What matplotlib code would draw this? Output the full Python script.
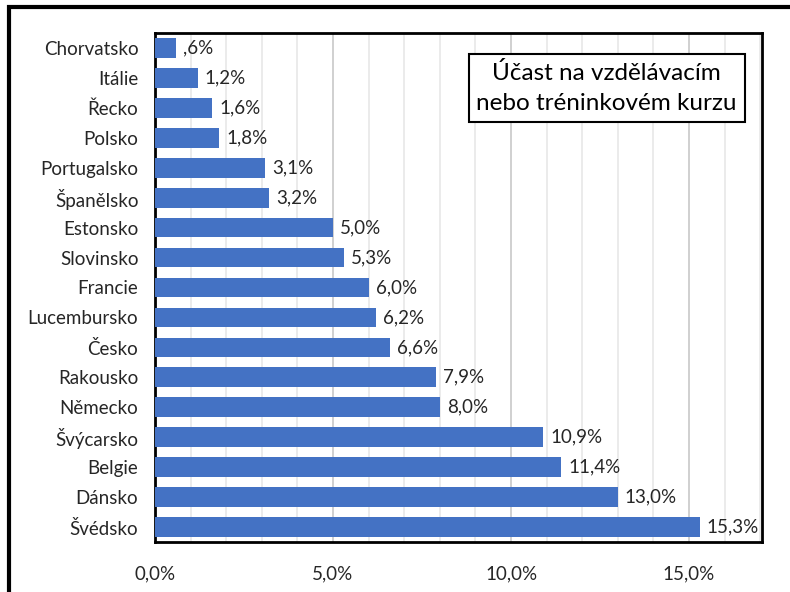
import matplotlib
matplotlib.use("Agg")
import matplotlib.pyplot as plt
from matplotlib.patches import Rectangle
from matplotlib.ticker import MultipleLocator, FuncFormatter

# data (top -> bottom as in the chart)
countries = ["Chorvatsko", "Itálie", "Řecko", "Polsko", "Portugalsko", "Španělsko",
             "Estonsko", "Slovinsko", "Francie", "Lucembursko", "Česko", "Rakousko",
             "Německo", "Švýcarsko", "Belgie", "Dánsko", "Švédsko"]
values = [0.6, 1.2, 1.6, 1.8, 3.1, 3.2, 5.0, 5.3, 6.0, 6.2, 6.6, 7.9,
          8.0, 10.9, 11.4, 13.0, 15.3]
title = "Účast na vzdělávacím\nnebo tréninkovém kurzu"

plt.rcParams["font.family"] = ["Lato", "DejaVu Sans"]
FS = 13.5

fig = plt.figure(figsize=(7.9, 5.92), dpi=100)
W, H = 790, 592
ax = fig.add_axes([155 / W, 1 - 542 / H, (762 - 155) / W, (542 - 33) / H])

ypos = list(range(len(countries)))
ax.barh(ypos, values, height=0.66, color="#4472C4", zorder=3)

def pct(v, _=None):
    s = f"{v:.1f}".replace(".", ",")
    if s.startswith("0,"):
        s = s[1:]
    return s + "%"

for y, v in zip(ypos, values):
    ax.text(v + 0.2, y, pct(v), va="center", ha="left", fontsize=FS,
            color="#262626", zorder=4)

ax.set_ylim(len(countries) - 0.5, -0.5)
ax.set_xlim(0, 17.05)
ax.set_yticks(ypos)
ax.set_yticklabels(countries, fontsize=FS, color="#262626")
ax.xaxis.set_major_locator(MultipleLocator(5))
ax.xaxis.set_minor_locator(MultipleLocator(1))
ax.xaxis.set_major_formatter(FuncFormatter(lambda v, p: f"{v:.1f}".replace(".", ",") + "%"))
ax.tick_params(axis="x", labelsize=FS, colors="#262626", length=0, pad=17, which="both")
ax.tick_params(axis="y", length=0, pad=12)
ax.grid(axis="x", which="major", color="#d0d0d0", linewidth=1.4, zorder=0)
ax.grid(axis="x", which="minor", color="#e8e8e8", linewidth=1.2, zorder=0)
for sp in ax.spines.values():
    sp.set_linewidth(2)
    sp.set_color("black")

# title box
ax.text(0.744, 0.892, title, transform=ax.transAxes, ha="center", va="center",
        fontsize=17.5, color="black", linespacing=1.55, zorder=5,
        bbox=dict(boxstyle="square,pad=0.32", facecolor="white",
                  edgecolor="black", linewidth=1.5))

# outer frame
fig.patches.append(Rectangle((9 / W, -0.05), 1.2, 1 - 7 / H + 0.05,
                             transform=fig.transFigure, fill=False,
                             edgecolor="black", linewidth=3))

fig.savefig("out.png", dpi=100)
